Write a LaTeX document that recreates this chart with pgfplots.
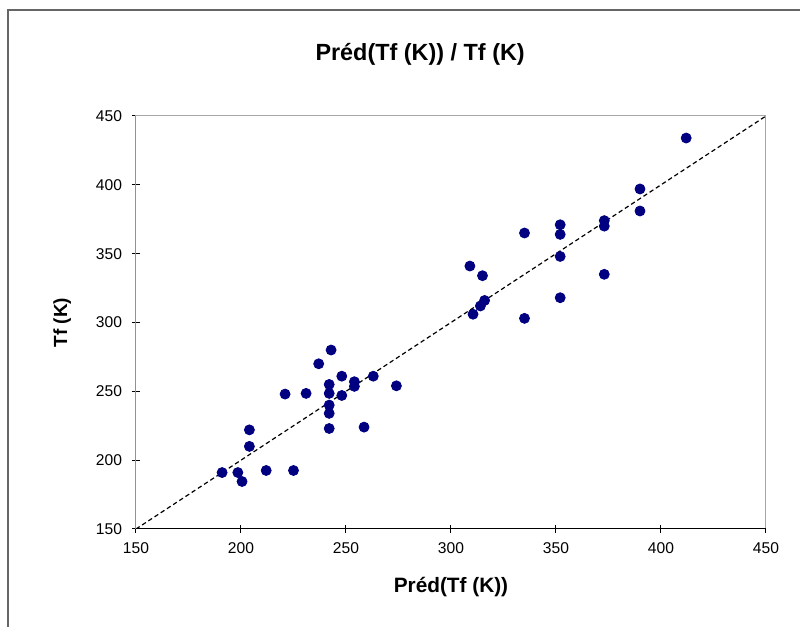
\documentclass[border=0pt]{standalone}
\usepackage{fontspec}
\setmainfont{Liberation Sans}
\usepackage{pgfplots}
\pgfplotsset{compat=1.18}
\definecolor{navy}{RGB}{0,0,128}
\begin{document}
\begin{tikzpicture}
\useasboundingbox (0pt,0pt) rectangle (400pt,313.5pt);
\draw[gray!80!black, line width=0.9pt] (4pt,0pt) -- (4pt,308.5pt) -- (400pt,308.5pt);
\begin{axis}[
  at={(68pt,49pt)}, anchor=south west,
  scale only axis, width=315pt, height=206.5pt,
  xmin=150, xmax=450, ymin=150, ymax=450,
  xtick={150,200,...,450}, ytick={150,200,...,450},
  xtick pos=bottom, ytick pos=left,
  tick align=center, major tick length=4pt,
  tick style={black, line width=0.5pt},
  axis line style={draw=gray!70, line width=0.5pt},
  tick label style={font=\fontsize{7.8}{9}\selectfont},
  xticklabel style={yshift=-1.5pt},
  yticklabel style={xshift=-1.5pt},
  /pgf/number format/assume math mode=true,
  title={\textbf{Préd(Tf (K)) / Tf (K)}},
  title style={at={(axis description cs:0.451,1.12)}, anchor=center, font=\fontsize{11.7}{13}\selectfont},
  xlabel={\textbf{Préd(Tf (K))}},
  xlabel style={at={(axis description cs:0.5,-0.140)}, anchor=center, font=\fontsize{10.4}{12}\selectfont},
  ylabel={\textbf{Tf (K)}},
  ylabel style={at={(axis description cs:-0.117,0.5)}, anchor=center, font=\fontsize{9.5}{11}\selectfont},
]
\addplot[black, line width=0.6pt, dash pattern=on 2.2pt off 1.5pt] coordinates {(150,150) (450,450)};
\addplot[only marks, mark=*, mark size=2.5pt, mark options={fill=navy, draw=navy}] coordinates {
  (191,191) (198.5,191) (200.5,184.5) (204,222) (204,210) (212,192.5) (225,192.5)
  (221,248) (231,248.5) (237,270) (242.9,280) (242,255) (242,248.5) (242,240)
  (242,234) (242,223) (248,261) (248,247) (254,257) (254,253.6) (258.6,224)
  (263,261) (274,254) (309,341) (315,334) (316,316) (314,312) (310.5,306)
  (335,365) (335,303) (352,371) (352,364) (352,348) (352,318) (373,374)
  (373,370) (373,335) (390,397) (390,381) (412,434)
};
\draw[black, line width=0.5pt] (rel axis cs:0,1) -- (rel axis cs:0,0) -- (rel axis cs:1,0);
\end{axis}
\end{tikzpicture}
\end{document}
